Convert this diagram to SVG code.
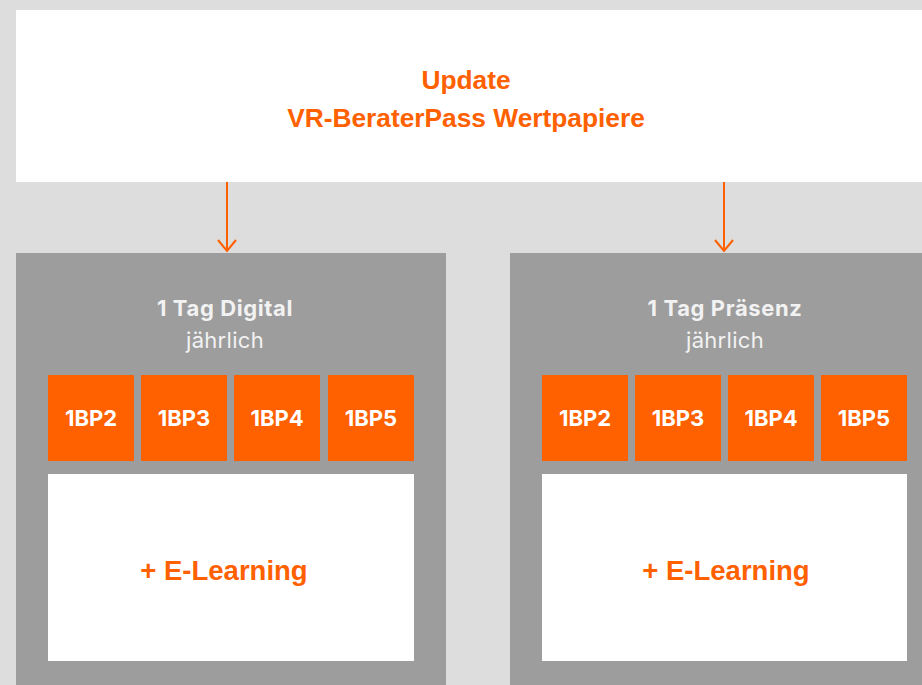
<svg xmlns="http://www.w3.org/2000/svg" width="922" height="685" viewBox="0 0 922 685">
<defs>
<style>
.bg{fill:#dddddd}
.white{fill:#ffffff}
.panel{fill:#9d9d9d}
.tile{fill:#ff6000}
.title{font-family:"Liberation Sans",Arial,sans-serif;font-weight:bold;font-size:26.3px;fill:#ff6000;text-anchor:middle}
.head{font-family:Inter,Lato,"Noto Sans",sans-serif;font-weight:bold;font-size:22px;letter-spacing:0.6px;fill:#f2f2f2;text-anchor:middle}
.sub{font-family:Inter,Lato,"Noto Sans",sans-serif;font-size:22px;letter-spacing:0.3px;fill:#f2f2f2;text-anchor:middle}
.code{font-family:Inter,Lato,"Noto Sans",sans-serif;font-weight:bold;font-size:22px;fill:#ffffff;text-anchor:middle}
.el{font-family:"Liberation Sans",Arial,sans-serif;font-weight:bold;font-size:27.5px;fill:#ff6000;text-anchor:middle}
.conn{fill:none;stroke:#ff6000;stroke-width:2}
</style>
</defs>
<rect class="bg" x="0" y="0" width="922" height="685"/>
<g id="top">
<rect class="white" x="16" y="10" width="906" height="172"/>
<text class="title" x="466" y="89">Update</text>
<text class="title" x="466" y="127">VR-BeraterPass Wertpapiere</text>
</g>
<g id="connectors">
<path class="conn" d="M227 182V251M218 240L227 251L236 240"/>
<path class="conn" d="M724 182V251M715 240L724 251L733 240"/>
</g>
<g id="digital">
<rect class="panel" x="16" y="253" width="430" height="432"/>
<text class="head" x="225" y="316">1 Tag Digital</text>
<text class="sub" x="225" y="348">jährlich</text>
<rect class="tile" x="48" y="375" width="86" height="86"/>
<rect class="tile" x="141" y="375" width="86" height="86"/>
<rect class="tile" x="234" y="375" width="86" height="86"/>
<rect class="tile" x="328" y="375" width="86" height="86"/>
<text class="code" x="91" y="426">1BP2</text>
<text class="code" x="184" y="426">1BP3</text>
<text class="code" x="277" y="426">1BP4</text>
<text class="code" x="371" y="426">1BP5</text>
<rect class="white" x="48" y="474" width="366" height="187"/>
<text class="el" x="224" y="580">+ E-Learning</text>
</g>
<g id="praesenz">
<rect class="panel" x="510" y="253" width="412" height="432"/>
<text class="head" x="725" y="316">1 Tag Präsenz</text>
<text class="sub" x="725" y="348">jährlich</text>
<rect class="tile" x="542" y="375" width="86" height="86"/>
<rect class="tile" x="635" y="375" width="86" height="86"/>
<rect class="tile" x="728" y="375" width="86" height="86"/>
<rect class="tile" x="821" y="375" width="86" height="86"/>
<text class="code" x="585" y="426">1BP2</text>
<text class="code" x="678" y="426">1BP3</text>
<text class="code" x="771" y="426">1BP4</text>
<text class="code" x="864" y="426">1BP5</text>
<rect class="white" x="542" y="474" width="365" height="187"/>
<text class="el" x="726" y="580">+ E-Learning</text>
</g>
</svg>
